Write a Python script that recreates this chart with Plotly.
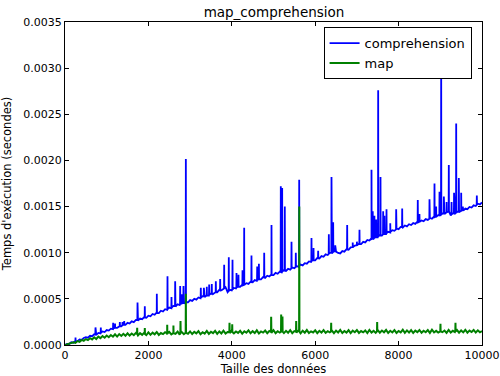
import plotly.graph_objects as go

# ---- data (times in microseconds, converted to seconds below) ----
sizes = list(range(0, 10001, 50))

comp_base_us = [
    0, 12, 11, 29, 25, 45, 41, 60, 56, 76,
    84, 79, 100, 95, 116, 109, 131, 125, 147, 140,
    162, 156, 177, 171, 193, 187, 208, 202, 225, 218,
    240, 233, 256, 248, 271, 264, 287, 280, 302, 295,
    318, 311, 336, 328, 353, 346, 371, 363, 388, 381,
    406, 398, 424, 416, 442, 433, 460, 449, 473, 463,
    487, 478, 501, 492, 515, 506, 529, 521, 544, 535,
    558, 552, 578, 572, 598, 592, 618, 626, 572, 598,
    592, 618, 612, 636, 629, 653, 645, 670, 662, 686,
    679, 703, 695, 720, 712, 736, 727, 751, 742, 766,
    757, 781, 772, 796, 787, 811, 802, 826, 817, 841,
    832, 856, 847, 871, 862, 887, 881, 906, 900, 925,
    918, 944, 937, 963, 956, 982, 975, 1000, 993, 1018,
    1012, 998, 992, 1018, 1012, 1038, 1032, 1058, 1052, 1078,
    1072, 1098, 1092, 1118, 1112, 1138, 1132, 1157, 1150, 1174,
    1167, 1192, 1185, 1209, 1202, 1227, 1220, 1244, 1237, 1262,
    1255, 1279, 1272, 1295, 1286, 1309, 1300, 1322, 1313, 1336,
    1327, 1350, 1341, 1364, 1355, 1377, 1368, 1391, 1382, 1407,
    1401, 1426, 1420, 1445, 1454, 1404, 1428, 1421, 1445, 1438,
    1462, 1455, 1479, 1472, 1496, 1489, 1514, 1506, 1531, 1523,
    1545,
]

map_base_us = [
    0, 6, 15, 16, 30, 24, 43, 34, 55, 46,
    64, 53, 74, 60, 84, 65, 90, 74, 97, 79,
    103, 85, 108, 90, 116, 91, 118, 98, 121, 100,
    127, 102, 124, 106, 131, 103, 128, 110, 134, 108,
    137, 110, 134, 116, 141, 109, 130, 118, 139, 113,
    143, 115, 136, 121, 146, 112, 140, 118, 133, 122,
    147, 119, 142, 126, 150, 117, 139, 124, 152, 120,
    144, 128, 153, 121, 147, 125, 155, 123, 141, 130,
    157, 126, 146, 131, 154, 124, 149, 133, 158, 127,
    150, 130, 159, 125, 147, 134, 156, 128, 152, 131,
    160, 127, 149, 135, 157, 129, 153, 132, 161, 128,
    151, 134, 158, 126, 155, 133, 162, 130, 148, 136,
    159, 128, 154, 135, 162, 131, 150, 137, 157, 129,
    156, 136, 163, 130, 152, 134, 160, 128, 155, 138,
    162, 131, 151, 137, 158, 129, 164, 135, 153, 132,
    160, 133, 157, 138, 163, 130, 154, 136, 161, 131,
    152, 137, 165, 132, 158, 135, 162, 130, 156, 139,
    163, 133, 155, 138, 161, 131, 166, 136, 153, 134,
    160, 139, 157, 132, 164, 135, 154, 140, 162, 133,
    158, 137, 165, 134, 156, 141, 163, 135, 159, 138,
    151,
]

# spikes: position, local baseline, peak (microseconds)
comp_spike_x = [252, 731, 859, 1155, 1200, 1315, 1380, 1420, 1739, 1914,
                2202, 2458, 2554, 2642, 2762, 2800, 2841, 2898, 3257, 3330,
                3400, 3457, 3520, 3617, 3721, 3817, 3928, 4017, 4113, 4160,
                4257, 4297, 4472, 4609, 4650, 4777, 4952, 5175, 5208, 5271,
                5432, 5535, 5616, 5911, 5960, 6071, 6327, 6391, 6431, 6480,
                6767, 6900, 7000, 7062, 7350, 7380, 7420, 7462, 7510, 7566,
                7630, 7660, 7710, 7800, 7942, 8086, 8460, 8500, 8741, 8861,
                8900, 8981, 9021, 9085, 9150, 9204, 9270, 9330, 9381, 9444,
                9501, 9540, 9876]
comp_spike_base = [40, 113, 133, 179, 186, 204, 214, 220, 270, 297,
                   346, 390, 406, 422, 443, 450, 456, 464, 515, 526,
                   536, 544, 554, 573, 594, 613, 585, 603, 622, 630,
                   646, 652, 680, 705, 712, 732, 758, 791, 796, 805,
                   830, 845, 857, 910, 919, 939, 988, 999, 1006, 1016,
                   1034, 1060, 1080, 1092, 1149, 1154, 1161, 1168, 1177, 1187,
                   1198, 1203, 1212, 1228, 1252, 1278, 1329, 1335, 1368, 1385,
                   1390, 1405, 1413, 1425, 1437, 1447, 1415, 1424, 1434, 1444,
                   1454, 1461, 1519]
comp_spike_peak = [80, 190, 190, 240, 232, 250, 250, 260, 460, 420,
                   556, 745, 520, 690, 640, 550, 640, 2015, 620, 620,
                   630, 655, 660, 690, 716, 870, 950, 925, 780, 760,
                   810, 1270, 970, 850, 880, 1000, 1300, 1720, 1700, 1500,
                   1120, 1000, 1790, 1160, 1050, 1020, 1200, 1820, 1330, 1080,
                   1300, 1110, 1120, 1250, 1900, 1450, 1400, 1360, 2760, 1820,
                   1450, 1400, 1470, 1320, 1470, 1480, 1570, 1420, 1580, 1750,
                   1500, 1660, 3100, 1610, 1550, 1950, 1550, 1650, 2400, 1810,
                   1650, 1500, 1620]

map_spike_x = [1731, 1914, 2451, 2600, 2770, 2898, 3945, 4010, 4944, 5184,
               5215, 5544, 5618, 6383, 7486, 9004, 9364]
map_spike_base = [118, 120, 126, 128, 131, 132, 140, 140, 143, 144,
                  144, 145, 145, 146, 147, 148, 149]
map_spike_peak = [186, 185, 220, 210, 260, 555, 240, 225, 305, 330,
                  310, 260, 1500, 240, 250, 230, 240]

x_ticks = [0, 2000, 4000, 6000, 8000, 10000]
y_ticks = [0.0, 0.0005, 0.0010, 0.0015, 0.0020, 0.0025, 0.0030, 0.0035]


def build(bx, by, sx, sb, sp, off=4):
    pts = list(zip(bx, by))
    for x, b, p in zip(sx, sb, sp):
        pts += [(x - off, b), (x, p), (x + off, b)]
    pts.sort()
    xs = [p[0] for p in pts]
    ys = [p[1] * 1e-6 for p in pts]
    return xs, ys


cx, cy = build(sizes, comp_base_us, comp_spike_x, comp_spike_base, comp_spike_peak)
mx, my = build(sizes, map_base_us, map_spike_x, map_spike_base, map_spike_peak)

FONT = "DejaVu Sans"

fig = go.Figure()
fig.add_trace(go.Scatter(x=cx, y=cy, mode="lines", name="comprehension",
                         line=dict(color="#0000ff", width=1.8)))
fig.add_trace(go.Scatter(x=mx, y=my, mode="lines", name="map",
                         line=dict(color="#008000", width=2.0)))

axis_common = dict(showline=True, linecolor="black", linewidth=1, mirror="ticks",
                   ticks="inside", ticklen=4, tickcolor="black", showgrid=False,
                   zeroline=False, automargin=False,
                   tickfont=dict(family=FONT, size=11, color="black"))

fig.update_layout(
    width=500, height=376,
    margin=dict(l=65, r=18, t=22, b=31),
    paper_bgcolor="white", plot_bgcolor="white",
    font=dict(family=FONT, color="black"),
    title=dict(text="map_comprehension", x=0.548, xanchor="center",
               y=0.968, yanchor="middle", font=dict(family=FONT, size=13.5)),
    xaxis=dict(range=[0, 10000], tickvals=x_ticks, ticktext=[str(v) for v in x_ticks],
               title=dict(text="Taille des données", font=dict(family=FONT, size=11.5)),
               **axis_common),
    yaxis=dict(range=[0, 0.0035], tickvals=y_ticks, tickformat=".4f",
               title=dict(text="Temps d'exécution (secondes)", font=dict(family=FONT, size=11.5)),
               **axis_common),
    legend=dict(x=0.975, y=0.984, xanchor="right", yanchor="top",
                bordercolor="black", borderwidth=1, bgcolor="white",
                font=dict(family=FONT, size=13), itemwidth=30,
                tracegroupgap=0),
    showlegend=True,
)

fig.write_html("out.html", config={"displayModeBar": False},
               post_script="document.body.style.margin='0';document.body.style.overflow='hidden';")
